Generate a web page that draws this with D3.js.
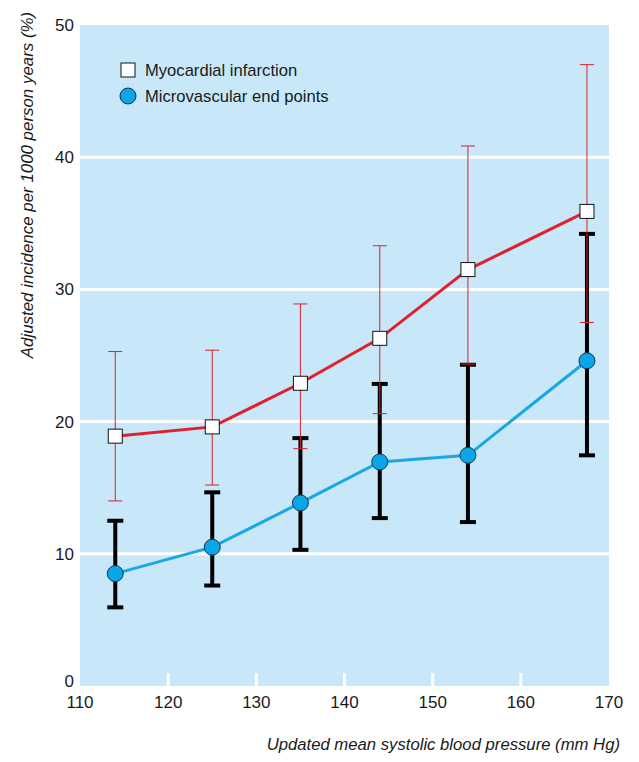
<!DOCTYPE html>
<html><head><meta charset="utf-8">
<script src="https://cdn.jsdelivr.net/npm/d3@7"></script>
<style>
body{margin:0;background:#fff;}
text{font-family:"Liberation Sans",Arial,sans-serif;fill:#1a1a1a;}
</style></head>
<body>
<svg id="chart" width="639" height="762"></svg>
<script>
const xValues = [114, 125, 135, 144, 154, 167.5];
const miValues = [18.9, 19.6, 22.9, 26.3, 31.5, 35.9];
const miLower = [14.0, 15.2, 17.95, 20.6, 24.35, 27.5];
const miUpper = [25.3, 25.4, 28.9, 33.3, 40.85, 47.0];
const mvValues = [8.5, 10.5, 13.85, 16.95, 17.45, 24.6];
const mvLower = [5.95, 7.6, 10.3, 12.7, 12.4, 17.45];
const mvUpper = [12.5, 14.65, 18.75, 22.85, 24.3, 34.2];
const xTicks = [110, 120, 130, 140, 150, 160, 170];
const yTicks = [0, 10, 20, 30, 40, 50];
const seriesNames = ["Myocardial infarction", "Microvascular end points"];

(function () {
const svg = d3.select("#chart");
const pLeft = 80, pRight = 609, pTop = 25, pBottom = 686;
const x = d3.scaleLinear().domain([110, 170]).range([pLeft, pRight]);
const y = d3.scaleLinear().domain([0, 50]).range([pBottom, pTop]);

svg.append("rect").attr("x", pLeft).attr("y", pTop).attr("width", pRight - pLeft).attr("height", pBottom - pTop).attr("fill", "#c8e8f9");

// gridlines
svg.append("g").selectAll("line").data(yTicks.filter(d => d > 0 && d < 50)).join("line")
  .attr("x1", pLeft).attr("x2", pRight).attr("y1", d => y(d)).attr("y2", d => y(d))
  .attr("stroke", "#fff").attr("stroke-width", 3);

// x tick marks (white, inside)
svg.append("g").selectAll("line").data(xTicks.slice(1, -1)).join("line")
  .attr("x1", d => x(d)).attr("x2", d => x(d)).attr("y1", pBottom).attr("y2", pBottom - 13)
  .attr("stroke", "#fff").attr("stroke-width", 3);

// tick labels
svg.append("g").selectAll("text").data(xTicks).join("text")
  .attr("x", d => x(d)).attr("y", 708).attr("text-anchor", "middle")
  .attr("font-size", 17).text(d => d);
svg.append("g").selectAll("text").data(yTicks).join("text")
  .attr("x", 74).attr("y", d => Math.min(y(d) + 6, pBottom + 1)).attr("text-anchor", "end")
  .attr("font-size", 17).text(d => d);

// axis titles
svg.append("text").attr("x", 620).attr("y", 750).attr("text-anchor", "end")
  .attr("font-size", 16.7).attr("font-style", "italic").text("Updated mean systolic blood pressure (mm Hg)");
svg.append("text").attr("transform", "translate(33,185) rotate(-90)").attr("text-anchor", "middle")
  .attr("font-size", 16.9).attr("font-style", "italic").text("Adjusted incidence per 1000 person years (%)");

const idx = d3.range(xValues.length);

// black error bars (microvascular)
const gb = svg.append("g");
gb.selectAll("line.v").data(idx).join("line").attr("class", "v")
  .attr("x1", i => x(xValues[i])).attr("x2", i => x(xValues[i]))
  .attr("y1", i => y(mvLower[i])).attr("y2", i => y(mvUpper[i]))
  .attr("stroke", "#000").attr("stroke-width", 4);
[mvLower, mvUpper].forEach(arr => {
  gb.append("g").selectAll("line").data(idx).join("line")
    .attr("x1", i => x(xValues[i]) - 8).attr("x2", i => x(xValues[i]) + 8)
    .attr("y1", i => y(arr[i])).attr("y2", i => y(arr[i]))
    .attr("stroke", "#000").attr("stroke-width", 4);
});

// red error bars (MI)
const gr = svg.append("g");
gr.selectAll("line.v").data(idx).join("line").attr("class", "v")
  .attr("x1", i => x(xValues[i])).attr("x2", i => x(xValues[i]))
  .attr("y1", i => y(miLower[i])).attr("y2", i => y(miUpper[i]))
  .attr("stroke", "#d8202c").attr("stroke-width", 1);
[miLower, miUpper].forEach(arr => {
  gr.append("g").selectAll("line").data(idx).join("line")
    .attr("x1", i => x(xValues[i]) - 7).attr("x2", i => x(xValues[i]) + 7)
    .attr("y1", i => y(arr[i])).attr("y2", i => y(arr[i]))
    .attr("stroke", "#d8202c").attr("stroke-width", 1);
});

// lines
const lineGen = arr => d3.line().x(i => x(xValues[i])).y(i => y(arr[i]))(idx);
svg.append("path").attr("d", lineGen(miValues)).attr("fill", "none").attr("stroke", "#e0202e").attr("stroke-width", 3);
svg.append("path").attr("d", lineGen(mvValues)).attr("fill", "none").attr("stroke", "#1aa8e2").attr("stroke-width", 3);

// markers
svg.append("g").selectAll("rect").data(idx).join("rect")
  .attr("x", i => x(xValues[i]) - 7).attr("y", i => y(miValues[i]) - 7)
  .attr("width", 14).attr("height", 14).attr("fill", "#fff").attr("stroke", "#111").attr("stroke-width", 1);
svg.append("g").selectAll("circle").data(idx).join("circle")
  .attr("cx", i => x(xValues[i])).attr("cy", i => y(mvValues[i])).attr("r", 8)
  .attr("fill", "#0aa6e8").attr("stroke", "#1b3350").attr("stroke-width", 1);

// legend
const lg = svg.append("g");
lg.append("rect").attr("x", 121).attr("y", 63).attr("width", 14).attr("height", 14)
  .attr("fill", "#fff").attr("stroke", "#111").attr("stroke-width", 1);
lg.append("circle").attr("cx", 128).attr("cy", 96).attr("r", 8)
  .attr("fill", "#0aa6e8").attr("stroke", "#1b3350").attr("stroke-width", 1);
lg.append("text").attr("x", 145).attr("y", 76).attr("font-size", 16.6).text(seriesNames[0]);
lg.append("text").attr("x", 145).attr("y", 102).attr("font-size", 16.6).text(seriesNames[1]);
})();
</script>
</body></html>
